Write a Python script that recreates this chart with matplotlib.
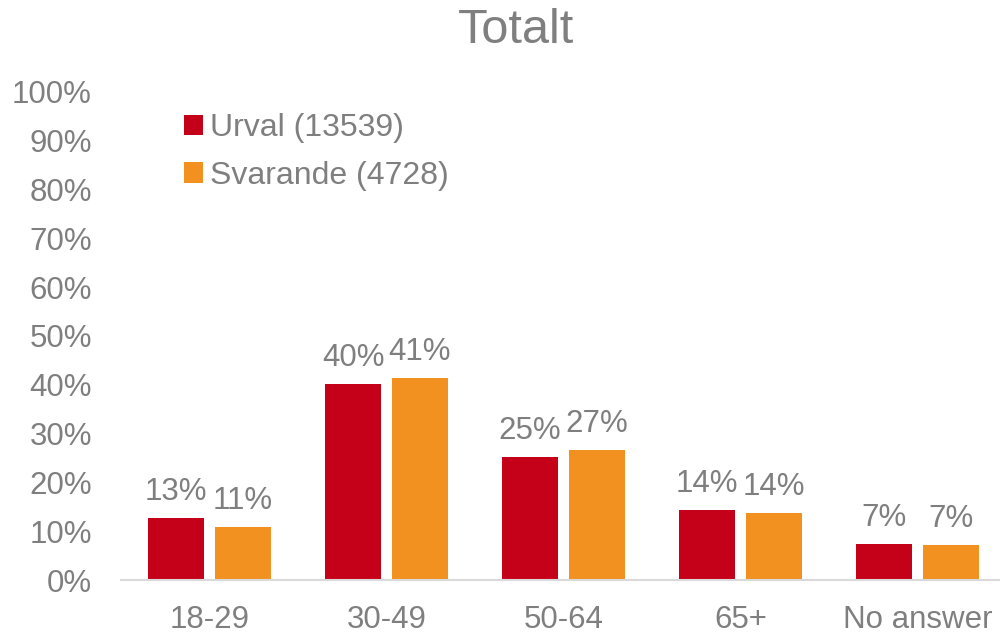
import numpy as np
import matplotlib
matplotlib.use("Agg")
import matplotlib.pyplot as plt
import matplotlib.ticker as mticker

# data (percent)
categories = ["18-29", "30-49", "50-64", "65+", "No answer"]
urval = [12.7, 40.1, 25.1, 14.3, 7.4]
svarande = [10.8, 41.3, 26.7, 13.7, 7.2]
series_names = ["Urval (13539)", "Svarande (4728)"]
title = "Totalt"

palette = {"urval": "#C50019", "svarande": "#F39120"}
text_grey = "#7F7F7F"
plt.rcParams["font.family"] = ["Liberation Sans", "DejaVu Sans"]
FontSize = 22.5

fig = plt.figure(figsize=(10, 6.35), dpi=100)
ax = fig.add_axes([0.121, 0.0866, 0.885, 0.769])

x = np.arange(len(categories))
bar_w = 0.316
gap = 0.062
off = (bar_w + gap) / 2

b1 = ax.bar(x - off, urval, width=bar_w, color=palette["urval"], label=series_names[0])
b2 = ax.bar(x + off, svarande, width=bar_w, color=palette["svarande"], label=series_names[1])

# value labels above bars
for bars, vals in ((b1, urval), (b2, svarande)):
    for rect, v in zip(bars, vals):
        ax.annotate(
            f"{round(v)}%",
            xy=(rect.get_x() + rect.get_width() / 2, rect.get_height()),
            xytext=(0, 8),
            textcoords="offset points",
            ha="center",
            va="bottom",
            fontsize=FontSize,
            color=text_grey,
        )

ax.set_xlim(-0.5, len(categories) - 0.5)
ax.set_ylim(0, 100)
ax.yaxis.set_major_locator(mticker.MultipleLocator(10))
ax.yaxis.set_major_formatter(mticker.FuncFormatter(lambda y, _: f"{int(y)}%"))
ax.set_xticks(x)
ax.set_xticklabels(categories)

ax.tick_params(axis="both", length=0, labelsize=FontSize, colors=text_grey)
ax.tick_params(axis="y", pad=21)
ax.tick_params(axis="x", pad=18)

for side in ("left", "right", "top"):
    ax.spines[side].set_visible(False)
ax.spines["bottom"].set_color("#D9D9D9")
ax.spines["bottom"].set_linewidth(1.5)

fig.text(0.516, 0.952, title, ha="center", va="center", fontsize=35, color=text_grey)

leg = fig.legend(
    handles=[b1, b2],
    labels=series_names,
    loc="upper left",
    bbox_to_anchor=(0.168, 0.847),
    frameon=False,
    fontsize=FontSize + 0.5,
    handlelength=0.6,
    handleheight=0.6,
    handletextpad=0.2,
    labelspacing=0.55,
    borderpad=0,
)
for t in leg.get_texts():
    t.set_color(text_grey)

fig.savefig("out.png", dpi=100)
